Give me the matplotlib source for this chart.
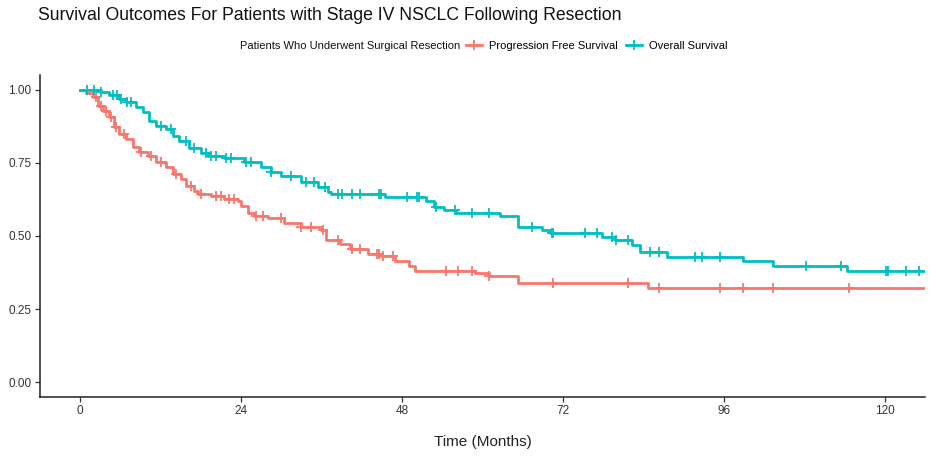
import numpy as np
import matplotlib.pyplot as plt
from matplotlib.lines import Line2D

plt.rcParams['font.family'] = ['Liberation Sans', 'DejaVu Sans']

# Kaplan-Meier step estimates (months, survival probability after each drop)
pfs_time = [0, 0.9, 1.9, 2.7, 3.4, 4.3, 5.1, 5.8, 6.8, 7.9, 8.8, 10.1, 11.3, 12.8,
            13.8, 15.0, 15.8, 17.0, 17.6, 19.5, 21.4, 23.5, 24.0, 25.0, 25.9, 28.0,
            30.4, 32.9, 35.9, 36.6, 38.8, 40.3, 42.9, 44.8, 47.0, 49.0, 50.0, 58.9,
            60.9, 65.3, 84.7]
pfs_surv = [1.0, 0.99, 0.976, 0.945, 0.928, 0.908, 0.874, 0.85, 0.833, 0.805, 0.788,
            0.775, 0.754, 0.737, 0.713, 0.696, 0.672, 0.655, 0.645, 0.638, 0.628,
            0.618, 0.601, 0.577, 0.567, 0.56, 0.543, 0.532, 0.519, 0.485, 0.474,
            0.457, 0.44, 0.43, 0.416, 0.399, 0.382, 0.372, 0.362, 0.338, 0.321]
pfs_censor = [2.4, 3.1, 3.9, 4.6, 5.4, 6.5, 9.1, 10.6, 12.1, 14.3, 16.5, 18.0, 20.2,
              21.0, 22.2, 22.9, 26.2, 27.2, 29.9, 32.9, 34.4, 36.2, 38.4, 40.6, 41.8,
              44.3, 44.6, 45.1, 46.6, 54.5, 56.3, 58.5, 60.9, 70.5, 81.7, 86.3, 95.4,
              98.8, 103.3, 114.6]

os_time = [0, 3.1, 4.3, 5.8, 6.8, 8.3, 9.4, 10.3, 11.3, 12.8, 13.8, 14.7, 16.2, 18.0,
           19.0, 21.4, 24.4, 26.9, 28.4, 29.9, 32.9, 35.4, 36.9, 37.4, 45.5, 51.5,
           52.7, 54.2, 56.0, 62.6, 65.3, 68.9, 70.1, 77.8, 79.8, 82.3, 83.5, 87.5,
           98.8, 103.3, 114.4]
os_surv = [1.0, 0.993, 0.98, 0.969, 0.959, 0.942, 0.925, 0.894, 0.877, 0.867, 0.843,
           0.823, 0.799, 0.782, 0.775, 0.765, 0.754, 0.737, 0.72, 0.706, 0.686, 0.669,
           0.652, 0.645, 0.632, 0.618, 0.60, 0.59, 0.577, 0.567, 0.532, 0.519, 0.509,
           0.498, 0.485, 0.468, 0.444, 0.427, 0.413, 0.396, 0.379]
os_censor = [1.0, 2.1, 3.1, 4.9, 5.5, 6.1, 7.0, 7.6, 12.1, 13.5, 15.8, 17.0, 18.8, 19.5,
             20.2, 21.7, 22.5, 24.7, 25.4, 28.4, 31.4, 33.6, 34.8, 36.5, 38.5, 39.1,
             40.6, 41.8, 44.5, 44.8, 48.8, 50.3, 50.6, 53.0, 55.9, 58.5, 60.9, 67.4,
             70.4, 70.5, 75.3, 77.1, 79.3, 79.9, 81.7, 85.0, 86.3, 91.7, 92.7, 95.4,
             108.2, 113.4, 120.2, 120.5, 123.1, 125.1]

follow_up_end = 126
x_ticks = [0, 24, 48, 72, 96, 120]
y_ticks = [0.0, 0.25, 0.50, 0.75, 1.0]

red = '#F8766D'
teal = '#00BFC4'


def km_curve(ax, times, surv, censor, color):
    t = list(times) + [follow_up_end]
    s = list(surv) + [surv[-1]]
    ax.step(t, s, where='post', color=color, lw=2.0, zorder=3)
    idx = np.searchsorted(times, censor, side='right') - 1
    ax.plot(censor, np.array(surv)[idx], ls='none', marker='+', ms=7, mew=1.3,
            color=color, zorder=4)


fig = plt.figure(figsize=(9.3, 4.57), dpi=100)
ax = fig.add_axes([40 / 930, 1 - 397 / 457, 885 / 930, 322 / 457])

km_curve(ax, pfs_time, pfs_surv, pfs_censor, red)
km_curve(ax, os_time, os_surv, os_censor, teal)

ax.set_xlim(-6, 126)
ax.set_ylim(-0.05, 1.05)
ax.set_xticks(x_ticks)
ax.set_yticks(y_ticks)
ax.set_yticklabels([f'{v:.2f}' for v in y_ticks])
for side in ['top', 'right']:
    ax.spines[side].set_visible(False)
for side in ['left', 'bottom']:
    ax.spines[side].set_linewidth(1.1)
    ax.spines[side].set_color('#222222')
ax.tick_params(length=3.5, width=0.9, color='#333333', labelsize=8.5,
               labelcolor='#333333', pad=2.5)
ax.set_xlabel('Time (Months)', fontsize=11, color='#222222', labelpad=13)

fig.text(38 / 930, 1 - 15 / 457,
         'Survival Outcomes For Patients with Stage IV NSCLC Following Resection',
         fontsize=12.7, ha='left', va='center', color='#111111')

# legend laid out on one row: title text followed by the two keys
leg_y = 1 - 46 / 457
leg_title = fig.text(240 / 930, leg_y, 'Patients Who Underwent Surgical Resection',
                     fontsize=8, ha='left', va='center', color='#111111')
renderer = fig.canvas.get_renderer()
bb = leg_title.get_window_extent(renderer).transformed(fig.transFigure.inverted())
handles = [Line2D([], [], color=red, lw=2.0, marker='+', ms=7, mew=1.3),
           Line2D([], [], color=teal, lw=2.0, marker='+', ms=7, mew=1.3)]
fig.legend(handles, ['Progression Free Survival', 'Overall Survival'], ncol=2,
           loc='center left', bbox_to_anchor=(bb.x1 + 4 / 930, leg_y), frameon=False,
           fontsize=8, handlelength=1.4, handletextpad=0.6, columnspacing=0.8,
           borderpad=0, borderaxespad=0.2)

fig.savefig('out.png', dpi=100)
